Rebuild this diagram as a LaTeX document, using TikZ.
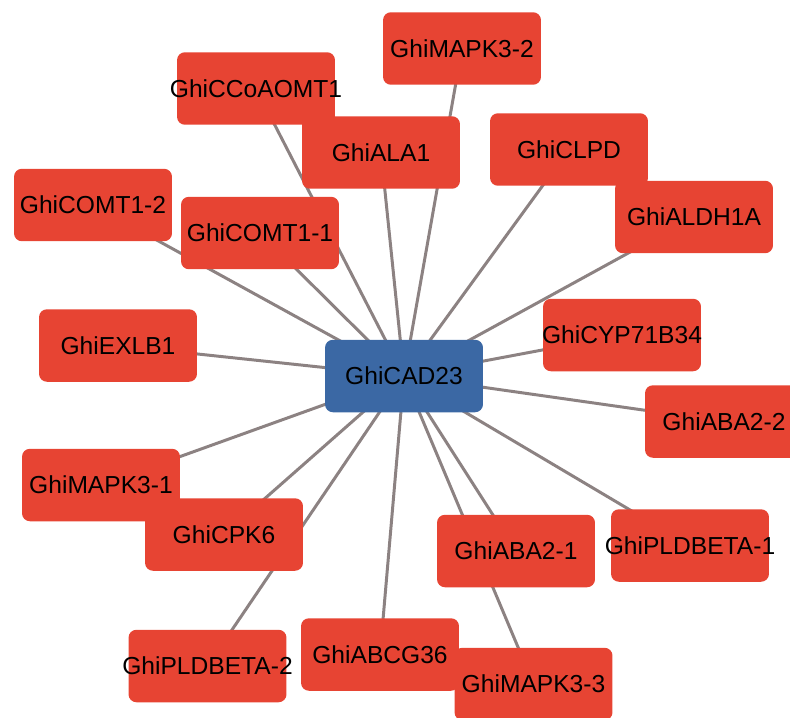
\documentclass[tikz,border=0pt]{standalone}
\usepackage{fontspec}
\setmainfont{Liberation Sans}
\usetikzlibrary{positioning,backgrounds}
\definecolor{genered}{RGB}{231,68,51}
\definecolor{geneblue}{RGB}{59,104,164}
\definecolor{edgegray}{RGB}{140,130,130}

\begin{document}
\begin{tikzpicture}[
    x=0.02cm, y=-0.02cm,
    font=\fontsize{14}{16}\selectfont,
    gene/.style={fill=genered, rectangle, rounded corners=4.5pt, inner sep=0pt,
        minimum width=3.16cm, minimum height=1.45cm},
    hub/.style={gene, fill=geneblue},
    link/.style={draw=edgegray, line width=1.7pt}
]
\useasboundingbox (0,0) rectangle (790,717);
\clip (0,0) rectangle (790,717);

\node[hub] (cad) at (404,376) {\makebox[0pt]{GhiCAD23}};

\node[gene] (mapkb) at (462,48.5) {\makebox[0pt]{GhiMAPK3-2}};
\node[gene] (ccoaomt) at (256,88.5) {\makebox[0pt]{GhiCCoAOMT1}};
\node[gene] (ala) at (381,152.5) {\makebox[0pt]{GhiALA1}};
\node[gene] (clpd) at (569,149.5) {\makebox[0pt]{GhiCLPD}};
\node[gene] (aldh) at (694,217) {\makebox[0pt]{GhiALDH1A}};
\node[gene] (comtb) at (93,205) {\makebox[0pt]{GhiCOMT1-2}};
\node[gene] (comta) at (260,233) {\makebox[0pt]{GhiCOMT1-1}};
\node[gene] (exlb) at (118,345.5) {\makebox[0pt]{GhiEXLB1}};
\node[gene] (cyp) at (622,335) {\makebox[0pt]{GhiCYP71B34}};
\node[gene] (abaa) at (724,421.5) {\makebox[0pt]{GhiABA2-2}};
\node[gene] (mapka) at (101,485) {\makebox[0pt]{GhiMAPK3-1}};
\node[gene] (cpk) at (224,534.5) {\makebox[0pt]{GhiCPK6}};
\node[gene] (plda) at (690,545.5) {\makebox[0pt]{GhiPLDBETA-1}};
\node[gene] (abab) at (516,551) {\makebox[0pt]{GhiABA2-1}};
\node[gene] (pldb) at (207.5,666) {\makebox[0pt]{GhiPLDBETA-2}};
\node[gene] (abcg) at (380,654.5) {\makebox[0pt]{GhiABCG36}};
\node[gene] (mapkc) at (533.5,684) {\makebox[0pt]{GhiMAPK3-3}};

% interactions, behind the boxes
\begin{scope}[on background layer]
\foreach \g in {mapkb,ccoaomt,ala,clpd,aldh,comtb,comta,exlb,cyp,abaa,mapka,cpk,plda,abab,pldb,abcg,mapkc}
    \draw[link] (cad.center) -- (\g.center);
\end{scope}

\end{tikzpicture}
\end{document}
